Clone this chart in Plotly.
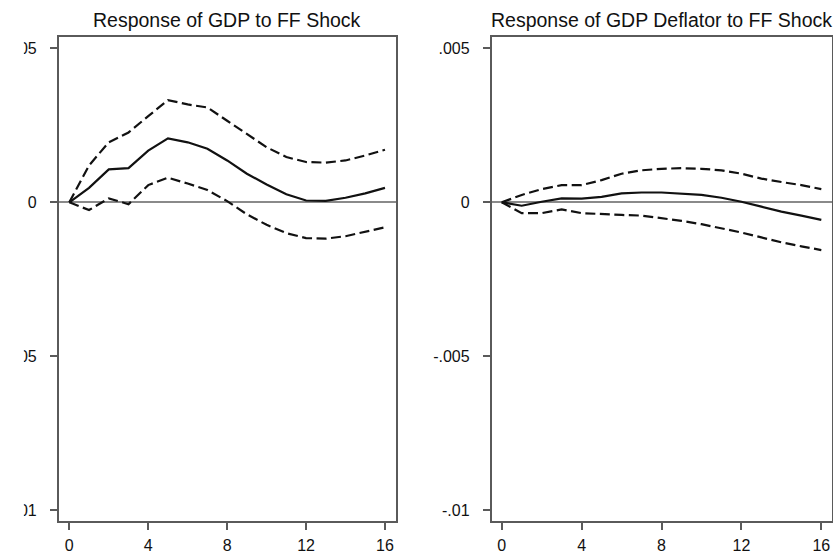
import plotly.graph_objects as go

# Horizon (quarters)
horizon = list(range(17))

# Response of GDP to FF shock
gdp_irf = [0.0, 0.00047, 0.00107, 0.00111, 0.00168, 0.00208, 0.00195, 0.00174, 0.00136,
           0.00093, 0.00058, 0.00026, 0.00006, 0.00005, 0.00015, 0.00029, 0.00047]
gdp_upper = [0.0, 0.0012, 0.00195, 0.00227, 0.0028, 0.00332, 0.00318, 0.00308, 0.00265,
             0.00222, 0.00179, 0.00147, 0.00131, 0.00129, 0.00136, 0.00152, 0.00171]
gdp_lower = [0.0, -0.00025, 0.00013, -0.00006, 0.00056, 0.0008, 0.00061, 0.0004, 0.00004,
             -0.00039, -0.00073, -0.001, -0.00116, -0.00118, -0.0011, -0.00096, -0.00081]

# Response of GDP deflator to FF shock
defl_irf = [0.0, -0.00011, 0.00002, 0.00013, 0.00012, 0.00018, 0.00029, 0.00032, 0.00032,
            0.00029, 0.00024, 0.00015, 0.00002, -0.00014, -0.0003, -0.00043, -0.00057]
defl_upper = [0.0, 0.00024, 0.00043, 0.00056, 0.00056, 0.00072, 0.00093, 0.00104, 0.00109,
              0.00111, 0.00109, 0.00104, 0.00093, 0.00077, 0.00066, 0.00056, 0.00043]
defl_lower = [0.0, -0.00035, -0.00035, -0.00023, -0.00035, -0.00039, -0.00041, -0.00043, -0.00051,
              -0.0006, -0.00071, -0.00084, -0.00098, -0.00114, -0.0013, -0.00143, -0.00155]

titles = ["Response of GDP to FF Shock", "Response of GDP Deflator to FF Shock"]
x_ticks = [0, 4, 8, 12, 16]
y_tickvals = [0.005, 0, -0.005, -0.01]
y_ticktext = [".005", "0", "-.005", "-.01"]

W, H = 833, 554
FONT = "Liberation Sans, Arial, sans-serif"
frame_col = "#5a5a5a"
dash_style = "10px,4.5px"

fig = go.Figure()

panels = [
    (gdp_irf, gdp_upper, gdp_lower, "x", "y"),
    (defl_irf, defl_upper, defl_lower, "x2", "y2"),
]
for irf, up, lo, xa, ya in panels:
    for series, dash in ((up, dash_style), (lo, dash_style), (irf, "solid")):
        fig.add_trace(go.Scatter(x=horizon, y=series, mode="lines", xaxis=xa, yaxis=ya,
                                 line=dict(color="#111111", width=2.2, dash=dash),
                                 showlegend=False, hoverinfo="skip"))

axis_common = dict(showgrid=False, showline=True, linecolor=frame_col, linewidth=1.5,
                   mirror=True, ticks="outside", ticklen=7, tickwidth=1.5, tickcolor=frame_col,
                   tickfont=dict(family=FONT, size=16, color="#111111"))

x_domains = [[55 / W, 394 / W], [490.5 / W, 832.5 / W]]
x_ranges = [[-0.54, 16.54], [-0.51, 16.51]]
y_range = [-0.01035, 0.00537]

layout = dict(width=W, height=H, margin=dict(l=0, r=0, t=37, b=28),
              paper_bgcolor="white", plot_bgcolor="white", showlegend=False)
for i in range(2):
    sx = "" if i == 0 else "2"
    layout["xaxis" + sx] = dict(axis_common, domain=x_domains[i], range=x_ranges[i],
                                tickvals=x_ticks, zeroline=False,
                                anchor="y" + sx, ticklabelstandoff=2)
    layout["yaxis" + sx] = dict(axis_common, domain=[0, 1], range=y_range,
                                tickvals=y_tickvals, ticktext=y_ticktext,
                                zeroline=True, zerolinecolor="#8a8a8a", zerolinewidth=1.8,
                                anchor="x" + sx, ticklabelstandoff=10)
fig.update_layout(**layout)

plot_h = H - 37 - 28
annotations = []
for i, t in enumerate(titles):
    cx = (x_domains[i][0] + x_domains[i][1]) / 2
    annotations.append(dict(text=t, x=cx, y=1 + (37 - 20) / plot_h, xref="paper", yref="paper",
                            showarrow=False, font=dict(family=FONT, size=19.5, color="#111111"),
                            xanchor="center", yanchor="middle"))
fig.update_layout(annotations=annotations)

# The reference image is cropped at the left edge, hiding the first ~20px
fig.add_shape(type="rect", xref="paper", yref="paper", x0=-0.01, x1=20 / W,
              y0=-0.2, y1=1.2, fillcolor="white", line=dict(width=0), layer="above")

fig.write_html("out.html")
